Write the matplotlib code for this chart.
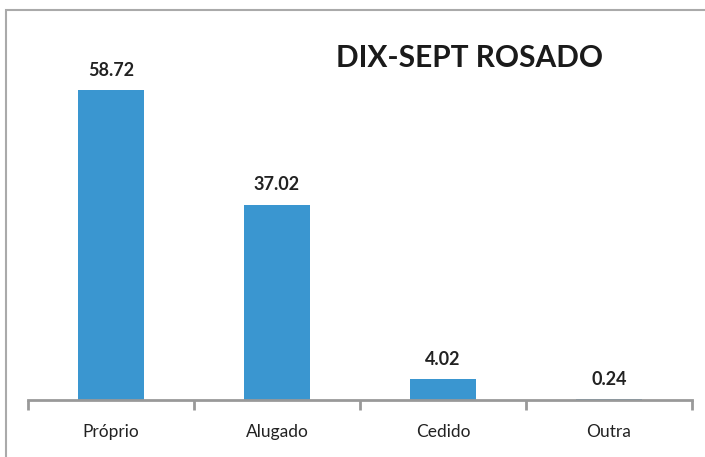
import matplotlib
matplotlib.use('Agg')
import matplotlib.pyplot as plt
from matplotlib.patches import Rectangle

# data
categories = ['Próprio', 'Alugado', 'Cedido', 'Outra']
values = [58.72, 37.02, 4.02, 0.24]
title = 'DIX-SEPT ROSADO'

plt.rcParams['font.family'] = ['Lato', 'DejaVu Sans']

fig = plt.figure(figsize=(7.05, 4.57), dpi=100)
ax = fig.add_axes([28 / 705, 1 - 400 / 457, 664 / 705, 370 / 457])

x = range(len(categories))
bars = ax.bar(x, values, width=0.4, color='#3A96D0')
ax.set_xlim(-0.5, len(categories) - 0.5)
ax.set_ylim(0, 70.08)

for b, v in zip(bars, values):
    ax.annotate(f'{v:.2f}', (b.get_x() + b.get_width() / 2, v),
                xytext=(0, 8), textcoords='offset points',
                ha='center', va='bottom', fontsize=13, fontweight='bold',
                color='#222222')

for s in ['top', 'right', 'left']:
    ax.spines[s].set_visible(False)
ax.spines['bottom'].set_color('#999999')
ax.spines['bottom'].set_linewidth(2)
ax.set_yticks([])
ax.set_xticks([i - 0.5 for i in range(len(categories) + 1)], minor=False)
ax.set_xticklabels([''] * (len(categories) + 1))
ax.set_xticks(list(x), minor=True)
ax.set_xticklabels(categories, minor=True, fontsize=12.5, color='#222222')
ax.tick_params(axis='x', which='major', length=7, width=2, color='#999999')
ax.tick_params(axis='x', which='minor', length=0, pad=17)

fig.text(470 / 705, 1 - 58 / 457, title, ha='center', va='center',
         fontsize=21.5, fontweight='bold', color='#1a1a1a')

# outer frame
fig.patches.append(Rectangle((6 / 705, -0.1), 1.2, 1 - 10 / 457 + 0.1,
                             transform=fig.transFigure, fill=False,
                             edgecolor='#aaaaaa', linewidth=1.5))

fig.savefig('out.png', dpi=100)
